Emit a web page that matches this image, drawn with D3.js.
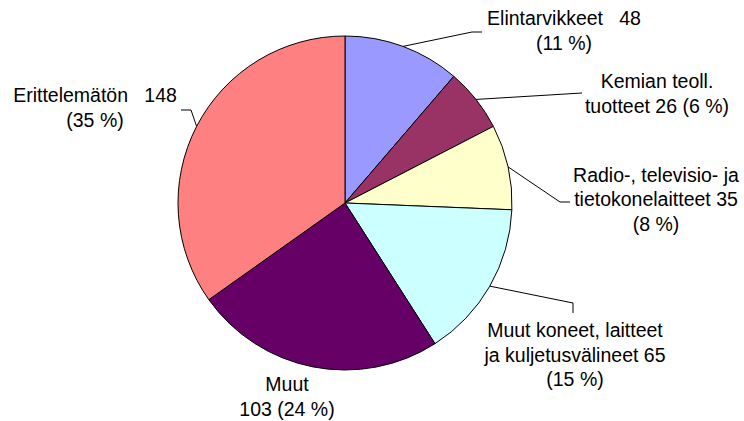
<!DOCTYPE html>
<html>
<head>
<meta charset="utf-8">
<script src="https://cdn.jsdelivr.net/npm/d3@7"></script>
<style>
  html, body { margin: 0; padding: 0; background: #fff; }
  svg { display: block; }
  text { font-family: Arial, "Liberation Sans", sans-serif; fill: #000; white-space: pre; }
</style>
</head>
<body>
<svg id="chart" width="744" height="421"></svg>
<script>
// ---- data ----
const categories = ["Elintarvikkeet", "Kemian teoll. tuotteet", "Radio-, televisio- ja tietokonelaitteet", "Muut koneet, laitteet ja kuljetusvälineet", "Muut", "Erittelemätön"];
const values = [48, 26, 35, 65, 103, 148];
const percents = [11, 6, 8, 15, 24, 35];
const labelLines = [
  ["Elintarvikkeet   48", "(11 %)"],
  ["Kemian teoll.", "tuotteet 26 (6 %)"],
  ["Radio-, televisio- ja", "tietokonelaitteet 35", "(8 %)"],
  ["Muut koneet, laitteet", "ja kuljetusvälineet 65", "(15 %)"],
  ["Muut", "103 (24 %)"],
  ["Erittelemätön   148", "(35 %)"]
];
const colors = ["#9999FF", "#993366", "#FFFFCC", "#CCFFFF", "#660066", "#FF8080"];

// ---- layout ----
const W = 744, H = 421;
const cx = 345, cy = 203, R = 167;
const fontSize = 19.5, lineH = 24.5;
// label anchor (center x, first baseline y) and leader elbow points (after arc point)
const labelLayout = [
  { x: 564, y: 25, leader: [[472, 32], [482, 32]] },
  { x: 657, y: 88, leader: [[582, 93]] },
  { x: 656, y: 181.5, leader: [[560, 202], [570, 202]] },
  { x: 575, y: 337, leader: [[573, 303], [573, 313]] },
  { x: 287, y: 391, leader: null },
  { x: 95, y: 102, leader: [[191, 110], [181, 110]] }
];

const svg = d3.select("#chart");
const g = svg.append("g").attr("transform", `translate(${cx},${cy})`);

const pie = d3.pie().sort(null).value(d => d).startAngle(0).endAngle(2 * Math.PI);
const arcs = pie(values);
const arc = d3.arc().innerRadius(0).outerRadius(R);

g.selectAll("path.slice")
  .data(arcs)
  .join("path")
  .attr("class", "slice")
  .attr("d", arc)
  .attr("fill", (d, i) => colors[i])
  .attr("stroke", "#000")
  .attr("stroke-width", 1)
  .attr("stroke-linejoin", "round");

// leader lines
const line = d3.line();
arcs.forEach((a, i) => {
  const L = labelLayout[i];
  if (!L.leader) return;
  const mid = (a.startAngle + a.endAngle) / 2;
  const p0 = [cx + R * Math.sin(mid), cy - R * Math.cos(mid)];
  svg.append("path")
    .attr("d", line([p0, ...L.leader]))
    .attr("fill", "none")
    .attr("stroke", "#000")
    .attr("stroke-width", 1);
});

// labels
labelLines.forEach((lines, i) => {
  const L = labelLayout[i];
  const t = svg.append("text")
    .attr("text-anchor", "middle")
    .attr("font-size", fontSize);
  lines.forEach((s, j) => {
    t.append("tspan").attr("x", L.x).attr("y", L.y + j * lineH).text(s);
  });
});
</script>
</body>
</html>
